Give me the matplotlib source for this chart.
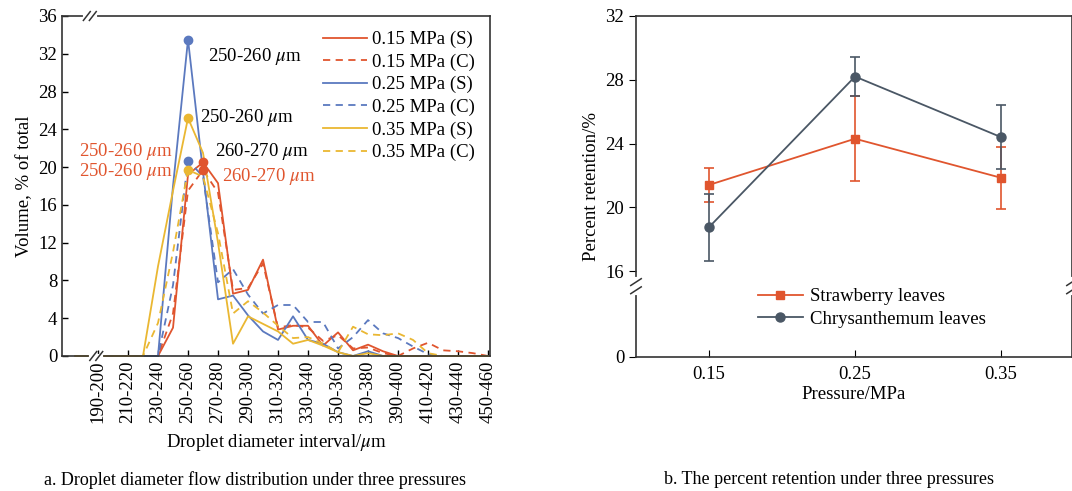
import numpy as np
import matplotlib
matplotlib.use('Agg')
import matplotlib.pyplot as plt

plt.rcParams['font.family'] = ['Liberation Serif', 'DejaVu Serif']
plt.rcParams['mathtext.fontset'] = 'stix'
plt.rcParams['font.size'] = 13.5

# ---- data (a) droplet diameter distribution ----
intervals = ['190-200', '200-210', '210-220', '220-230', '230-240', '240-250',
             '250-260', '260-270', '270-280', '280-290', '290-300', '300-310',
             '310-320', '320-330', '330-340', '340-350', '350-360', '360-370',
             '370-380', '380-390', '390-400', '400-410', '410-420', '420-430',
             '430-440', '440-450', '450-460']
start_diam = 180  # point drawn before the axis break
p15_s = [0, 0, 0, 0, 0, 0, 3.0, 19.2, 20.5, 18.3, 6.6, 7.0, 10.2, 2.8, 3.2, 3.2,
         1.1, 2.5, 0.6, 1.2, 0.5, 0, 0, 0, 0, 0, 0, 0]
p15_c = [0, 0, 0, 0, 0, 0, 4.5, 17.5, 19.7, 17.3, 7.0, 7.2, 9.8, 3.0, 3.3, 3.0,
         1.6, 2.2, 0.8, 0.9, 0.3, 0, 0.8, 1.4, 0.6, 0.5, 0.3, 0]
p25_s = [0, 0, 0, 0, 0, 0, 18.0, 33.5, 19.5, 6.0, 6.4, 4.3, 2.6, 1.7, 4.2, 1.7,
         1.3, 0.4, 0, 0.5, 0, 0, 0, 0, 0, 0, 0, 0]
p25_c = [0, 0, 0, 0, 0, 0, 7.5, 20.7, 19.0, 7.8, 9.2, 6.5, 4.5, 5.4, 5.4, 3.6,
         3.6, 0.8, 2.0, 3.8, 2.4, 1.9, 1.0, 0.2, 0, 0, 0, 0]
p35_s = [0, 0, 0, 0, 0, 9.5, 17.5, 25.2, 21.5, 12.0, 1.3, 4.2, 3.4, 2.6, 1.3, 1.7,
         1.1, 0.4, 0, 0.3, 0, 0, 0, 0, 0, 0, 0, 0]
p35_c = [0, 0, 0, 0, 0, 3.5, 11.0, 19.7, 19.0, 13.0, 4.5, 5.8, 4.6, 3.2, 1.9, 2.0,
         1.3, 0.4, 3.1, 2.3, 2.2, 2.4, 1.7, 0.3, 0, 0, 0, 0]

# ---- data (b) percent retention ----
pressure = [0.15, 0.25, 0.35]
straw = [21.4, 24.3, 21.85]
straw_err = [1.05, 2.65, 1.95]
chrys = [18.75, 28.2, 24.4]
chrys_err = [2.1, 1.2, 2.0]

red = '#E0552E'
blue = '#5B79BF'
yellow = '#EAB732'
dark = '#4A5765'

mids = [(int(s.split('-')[0]) + int(s.split('-')[1])) / 2 for s in intervals]
x = np.array([start_diam] + mids)

fig = plt.figure(figsize=(10.72, 4.91), dpi=100)

# ================= (a) =================
ax = fig.add_axes([62/1072, 1-356/491, 428/1072, 340/491])
series = [(p15_s, red, '-', '0.15 MPa (S)'), (p15_c, red, '--', '0.15 MPa (C)'),
          (p25_s, blue, '-', '0.25 MPa (S)'), (p25_c, blue, '--', '0.25 MPa (C)'),
          (p35_s, yellow, '-', '0.35 MPa (S)'), (p35_c, yellow, '--', '0.35 MPa (C)')]
for vals, c, ls, lab in series:
    vals = np.array(vals)
    if ls == '--':
        ax.plot(x, vals, color=c, lw=1.3, dashes=(4, 3), label=lab, clip_on=False)
    else:
        ax.plot(x, vals, color=c, lw=1.3, label=lab, clip_on=False)
    i = np.argmax(vals)
    ax.plot(x[i], vals[i], 'o', color=c, ms=6, zorder=5)

ax.set_xlim(171, 456.3)
ax.set_ylim(0, 36)
ax.set_yticks(np.arange(0, 37, 4))
ax.set_xticks(x[1::2])
ax.set_xticklabels(intervals[::2], rotation=90)
ax.tick_params(direction='in', length=4, width=1)
ax.set_xlabel('Droplet diameter interval/$\\mu$m', labelpad=6)
ax.set_ylabel('Volume, % of total', labelpad=4)
for sp in ax.spines.values():
    sp.set_linewidth(1.2)
    sp.set_color('#333333')

# annotations
ax.text(268.3, 31.7, '250-260 $\\mu$m', ha='left', va='center')
ax.text(263, 25.3, '250-260 $\\mu$m', ha='left', va='center')
ax.text(273, 21.6, '260-270 $\\mu$m', ha='left', va='center')
ax.text(244.5, 21.6, '250-260 $\\mu$m', ha='right', va='center', color=red)
ax.text(244.5, 19.5, '250-260 $\\mu$m', ha='right', va='center', color=red)
ax.text(277.7, 19.0, '260-270 $\\mu$m', ha='left', va='center', color=red)

ax.legend(loc='upper right', bbox_to_anchor=(1.0, 1.0), frameon=False,
          handlelength=2.3, handletextpad=0.3, labelspacing=0.28, borderpad=0.3)

# axis break marks
for xb, yb in [(0.065, 1.0), (0.08, 0.0)]:
    ax.plot([xb - 0.012, xb + 0.012], [yb, yb], color='white', lw=3,
            transform=ax.transAxes, clip_on=False, zorder=6)
    for dx in (-0.007, 0.007):
        ax.plot([xb + dx - 0.008, xb + dx + 0.008], [yb - 0.013, yb + 0.013],
                color='#333333', lw=1.1, transform=ax.transAxes, clip_on=False,
                zorder=7)

# ================= (b) =================
k = 0.336


def fwd(y):
    y = np.asarray(y, dtype=float)
    return np.where(y >= 16, y, 16 - (16 - y) * k)


def inv(u):
    u = np.asarray(u, dtype=float)
    return np.where(u >= 16, u, 16 - (16 - u) / k)


bx = fig.add_axes([636/1072, 1-356.7/491, 436/1072, 340.7/491])
bx.set_yscale('function', functions=(fwd, inv))
bx.errorbar(pressure, straw, yerr=straw_err, color=red, fmt='none',
            capsize=3.5, elinewidth=1.2, capthick=1.2)
bx.plot(pressure, straw, color=red, marker='s', ms=6, lw=1.3,
        label='Strawberry leaves')
bx.errorbar(pressure, chrys, yerr=chrys_err, color=dark, fmt='none',
            capsize=3.5, elinewidth=1.2, capthick=1.2)
bx.plot(pressure, chrys, color=dark, marker='o', ms=6.5, lw=1.3,
        label='Chrysanthemum leaves')
bx.set_xlim(0.1, 0.3986)
bx.set_ylim(0, 32)
bx.set_yticks([0, 16, 20, 24, 28, 32])
bx.set_xticks(pressure)
bx.set_xticklabels(['0.15', '0.25', '0.35'])
bx.tick_params(axis='x', direction='in', length=5, pad=7)
bx.tick_params(axis='y', direction='out', length=5)
bx.set_xlabel('Pressure/MPa', labelpad=2)
bx.set_ylabel('Percent retention/%', labelpad=4)
for sp in bx.spines.values():
    sp.set_linewidth(1.2)
    sp.set_color('#333333')
bx.legend(loc='center left', bbox_to_anchor=(0.24, 0.143), frameon=False,
          handlelength=2.4, handletextpad=0.4, labelspacing=0.3)

yb = 0.207
for xb in (0.0, 1.0):
    bx.plot([xb, xb], [yb - 0.02, yb + 0.02], color='white', lw=3,
            transform=bx.transAxes, clip_on=False, zorder=6)
    for dy in (-0.012, 0.012):
        bx.plot([xb - 0.012, xb + 0.012], [yb + dy - 0.01, yb + dy + 0.01],
                color='#333333', lw=1.1, transform=bx.transAxes, clip_on=False,
                zorder=7)

fig.text(255/1072, 1-480/491, 'a. Droplet diameter flow distribution under three pressures',
         ha='center', va='center', fontsize=13)
fig.text(829/1072, 1-480/491, 'b. The percent retention under three pressures',
         ha='center', va='center', fontsize=13)

fig.savefig('out.png', dpi=100)
